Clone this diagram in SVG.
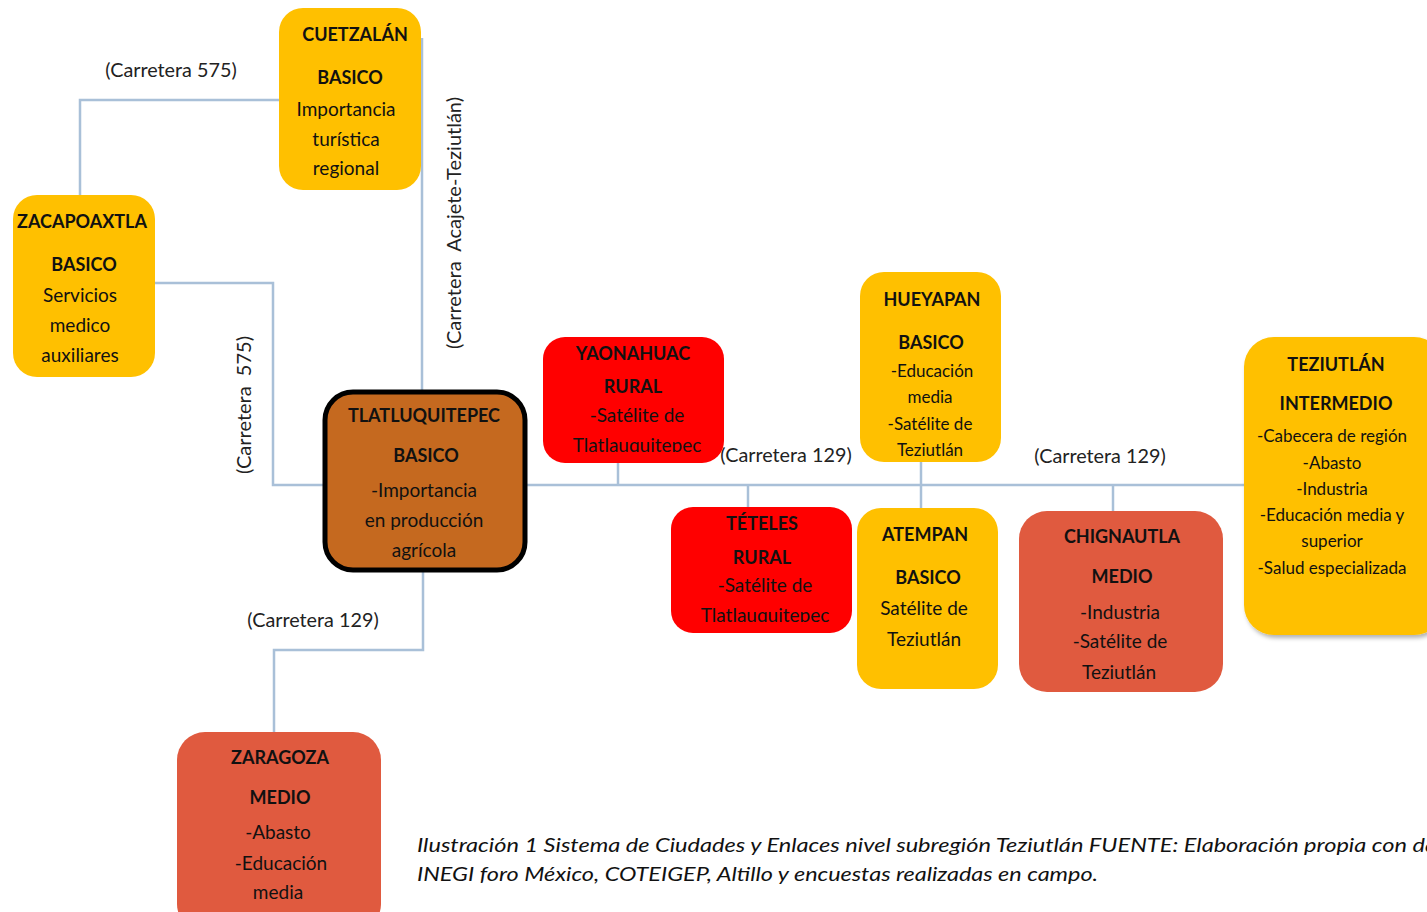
<svg xmlns="http://www.w3.org/2000/svg" width="1427" height="912" viewBox="0 0 1427 912">
<defs>
<style>
.t{font-family:Lato,"Liberation Sans",sans-serif;font-size:19px;fill:#111;text-anchor:middle}
.b{font-weight:bold;font-size:18px}
.s{font-size:17px}
.lbl{font-family:Lato,"Liberation Sans",sans-serif;font-size:19.8px;fill:#222;text-anchor:middle}
.rl{font-size:20px;white-space:pre}
.ln{fill:none;stroke:#a9c0d8;stroke-width:2.5}
.y{fill:#ffc000}
.r{fill:#ff0000}
.o{fill:#e05a3f}
.cap{font-family:Lato,"Liberation Sans",sans-serif;font-size:20px;font-style:italic;fill:#111}
</style>
<clipPath id="cY"><rect x="543" y="337" width="182" height="115"/></clipPath>
<clipPath id="cT"><rect x="671" y="507" width="182" height="115"/></clipPath>
<filter id="sh" x="-10%" y="-10%" width="130%" height="130%"><feDropShadow dx="2" dy="3" stdDeviation="2" flood-color="#000" flood-opacity="0.3"/></filter>
</defs>
<rect width="1427" height="912" fill="#fff"/>
<g id="connectors">
<polyline class="ln" points="80,195 80,100 280,100"/>
<polyline class="ln" points="155,283 273,283 273,485 325,485"/>
<polyline class="ln" points="422,38 422,392"/>
<polyline class="ln" points="423,570 423,650 274,650 274,733"/>
<polyline class="ln" points="525,485 1245,485"/>
<polyline class="ln" points="618,463 618,485"/>
<polyline class="ln" points="748,485 748,508"/>
<polyline class="ln" points="921,462 921,508"/>
<polyline class="ln" points="1113,485 1113,512"/>
<rect x="719" y="440" width="136" height="24" fill="#fff"/>
<rect x="1030" y="442" width="140" height="24" fill="#fff"/>
<text class="lbl" x="171" y="77">(Carretera 575)</text>
<text class="lbl" x="313" y="627">(Carretera 129)</text>
<text class="lbl" x="786" y="462">(Carretera 129)</text>
<text class="lbl" x="1100" y="463">(Carretera 129)</text>
<text class="lbl rl" xml:space="preserve" transform="translate(461,223) rotate(-90)">(Carretera  Acajete-Teziutlán)</text>
<text class="lbl rl" xml:space="preserve" transform="translate(251,405) rotate(-90)">(Carretera  575)</text>
</g>
<g id="cuetzalan">
<rect class="y" x="279" y="8" width="142" height="182" rx="24"/>
<text class="t b" x="355" y="41">CUETZALÁN</text>
<text class="t b" x="350" y="84">BASICO</text>
<text class="t" x="346" y="116">Importancia</text>
<text class="t" x="346" y="146">turística</text>
<text class="t" x="346" y="175">regional</text>
</g>
<g id="zacapoaxtla">
<rect class="y" x="13" y="195" width="142" height="182" rx="24"/>
<text class="t b" x="82" y="228">ZACAPOAXTLA</text>
<text class="t b" x="84" y="271">BASICO</text>
<text class="t" x="80" y="302">Servicios</text>
<text class="t" x="80" y="332">medico</text>
<text class="t" x="80" y="362">auxiliares</text>
</g>
<g id="tlatlauquitepec">
<rect x="325" y="392" width="200" height="178" rx="28" fill="#c5691f" stroke="#000" stroke-width="5"/>
<text class="t b" x="424" y="422">TLATLUQUITEPEC</text>
<text class="t b" x="426" y="462">BASICO</text>
<text class="t" x="424" y="497">-Importancia</text>
<text class="t" x="424" y="527">en producción</text>
<text class="t" x="424" y="557">agrícola</text>
</g>
<g id="yaonahuac">
<rect class="r" x="543" y="337" width="181" height="126" rx="22"/>
<text class="t b" x="633" y="360">YAONAHUAC</text>
<text class="t b" x="633" y="393">RURAL</text>
<text class="t" x="637" y="422">-Satélite de</text>
<text class="t" x="637" y="452" clip-path="url(#cY)">Tlatlauquitepec</text>
</g>
<g id="hueyapan">
<rect class="y" x="860" y="272" width="141" height="190" rx="24"/>
<text class="t b" x="932" y="306">HUEYAPAN</text>
<text class="t b" x="931" y="349">BASICO</text>
<text class="t s" x="932" y="377">-Educación</text>
<text class="t s" x="930" y="403">media</text>
<text class="t s" x="930" y="430">-Satélite de</text>
<text class="t s" x="930" y="456">Teziutlán</text>
</g>
<g id="teteles">
<rect class="r" x="671" y="507" width="181" height="126" rx="22"/>
<text class="t b" x="762" y="530">TÉTELES</text>
<text class="t b" x="762" y="564">RURAL</text>
<text class="t" x="765" y="592">-Satélite de</text>
<text class="t" x="765" y="622" clip-path="url(#cT)">Tlatlauquitepec</text>
</g>
<g id="atempan">
<rect class="y" x="857" y="508" width="141" height="181" rx="24"/>
<text class="t b" x="925" y="541">ATEMPAN</text>
<text class="t b" x="928" y="584">BASICO</text>
<text class="t" x="924" y="615">Satélite de</text>
<text class="t" x="924" y="646">Teziutlán</text>
</g>
<g id="chignautla">
<rect class="o" x="1019" y="511" width="204" height="181" rx="28"/>
<text class="t b" x="1122" y="543">CHIGNAUTLA</text>
<text class="t b" x="1122" y="583">MEDIO</text>
<text class="t" x="1120" y="619">-Industria</text>
<text class="t" x="1120" y="648">-Satélite de</text>
<text class="t" x="1119" y="679">Teziutlán</text>
</g>
<g id="teziutlan">
<rect class="y" x="1244" y="337" width="200" height="298" rx="30" filter="url(#sh)"/>
<text class="t b" x="1336" y="371">TEZIUTLÁN</text>
<text class="t b" x="1336" y="410">INTERMEDIO</text>
<text class="t s" x="1332" y="442">-Cabecera de región</text>
<text class="t s" x="1332" y="469">-Abasto</text>
<text class="t s" x="1332" y="495">-Industria</text>
<text class="t s" x="1332" y="521">-Educación media y</text>
<text class="t s" x="1332" y="547">superior</text>
<text class="t s" x="1332" y="574">-Salud especializada</text>
</g>
<g id="zaragoza">
<rect class="o" x="177" y="732" width="204" height="200" rx="28"/>
<text class="t b" x="280" y="764">ZARAGOZA</text>
<text class="t b" x="280" y="804">MEDIO</text>
<text class="t" x="278" y="839">-Abasto</text>
<text class="t" x="281" y="870">-Educación</text>
<text class="t" x="278" y="899">media</text>
</g>
<g id="caption">
<text class="cap" x="417" y="852" textLength="1020" lengthAdjust="spacingAndGlyphs">Ilustración 1 Sistema de Ciudades y Enlaces nivel subregión Teziutlán FUENTE: Elaboración propia con da</text>
<text class="cap" x="417" y="881" textLength="681" lengthAdjust="spacingAndGlyphs">INEGI foro México, COTEIGEP, Altillo y encuestas realizadas en campo.</text>
</g>
</svg>
